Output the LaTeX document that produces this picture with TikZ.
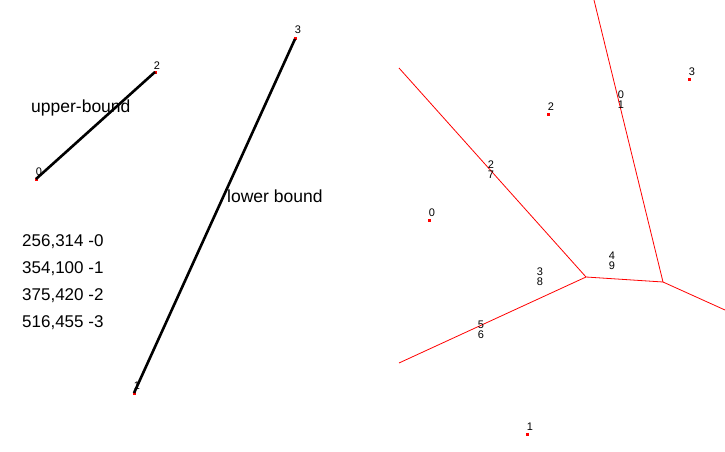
\documentclass[tikz,border=0pt]{standalone}
\usepackage{fontspec}
\setmainfont{Liberation Sans}
\begin{document}
\begin{tikzpicture}[x=1pt,y=-1pt,
  pt/.style={fill=red,inner sep=0pt,minimum size=3pt,draw=none},
  lbl/.style={font=\fontsize{11}{11}\selectfont,inner sep=0pt,anchor=base},
  big/.style={font=\fontsize{17.5}{20}\selectfont,inner sep=0pt,anchor=base west},
  num/.style={font=\fontsize{17}{20}\selectfont,inner sep=0pt,anchor=base west},
  seg/.style={line width=2.6pt,black},
  edge/.style={red,line width=0.8pt}]
\useasboundingbox (0,0) rectangle (725,452);
% left panel points
\node[pt] (L0) at (36,179) {};
\node[pt] (L2) at (155,72) {};
\node[pt] (L3) at (295,39) {};
\node[pt] (L1) at (134,393) {};
\draw[seg] (L0.center) -- (L2.center);
\draw[seg] (L1.center) -- (L3.center);
\node[lbl] (tL0) at (39,175) {0};
\node[lbl] (tL2) at (157,70) {2};
\node[lbl] (tL3) at (298,34) {3};
\node[lbl] (tL1) at (137,389) {1};
\node[big] (ub) at (31,112) {upper-bound};
\node[big] (lb) at (227,202) {lower bound};
\node[num] (n0) at (22,246) {256,314 -0};
\node[num] (n1) at (22,273) {354,100 -1};
\node[num] (n2) at (22,300) {375,420 -2};
\node[num] (n3) at (22,327) {516,455 -3};
% right panel
\coordinate (A) at (399,68);
\coordinate (V1) at (586,277);
\coordinate (V2) at (663,282);
\coordinate (B) at (594,0);
\coordinate (C) at (725,310);
\coordinate (D) at (399,363);
\draw[edge] (A) -- (V1) -- (V2) -- (B);
\draw[edge] (V2) -- (C);
\draw[edge] (V1) -- (D);
\node[pt] (R2) at (548,114) {};
\node[pt] (R0) at (429,220) {};
\node[pt] (R3) at (689,79) {};
\node[pt] (R1) at (527,434) {};
\node[lbl] (tR2) at (551,110) {2};
\node[lbl] (tR0) at (432,216) {0};
\node[lbl] (tR3) at (692,75) {3};
\node[lbl] (tR1) at (530,430) {1};
\node[lbl] (e27a) at (491,168) {2};
\node[lbl] (e27b) at (491,178) {7};
\node[lbl] (e01a) at (621,98) {0};
\node[lbl] (e01b) at (621,108) {1};
\node[lbl] (e49a) at (612,259) {4};
\node[lbl] (e49b) at (612,269) {9};
\node[lbl] (e38a) at (540,275) {3};
\node[lbl] (e38b) at (540,285) {8};
\node[lbl] (e56a) at (481,328) {5};
\node[lbl] (e56b) at (481,338) {6};
\end{tikzpicture}
\end{document}
